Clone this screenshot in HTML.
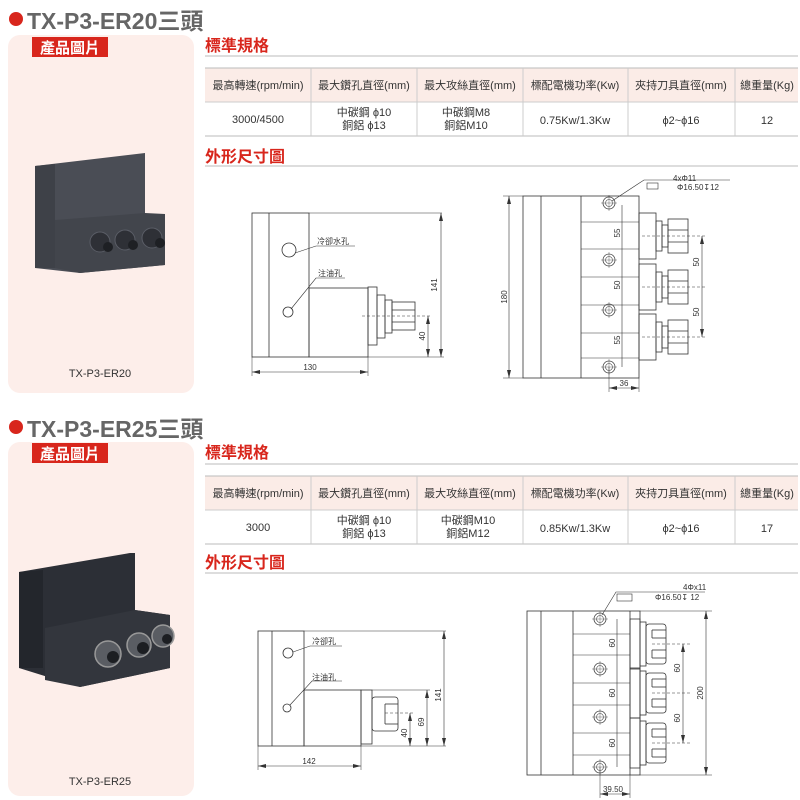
<!DOCTYPE html>
<html><head><meta charset="utf-8"><style>
html,body{margin:0;padding:0;background:#fff;}
svg{display:block;}
text{font-family:"Liberation Sans","Noto Sans CJK TC",sans-serif;}
</style></head><body>
<svg width="800" height="800" viewBox="0 0 800 800" xmlns="http://www.w3.org/2000/svg">
<defs>
<g id="tbl">
  <rect x="205" y="0" width="593" height="34" fill="#fbece7"/>
  <line x1="205" y1="0" x2="798" y2="0" stroke="#bbb"/>
  <line x1="205" y1="34" x2="798" y2="34" stroke="#ccc"/>
  <line x1="205" y1="68" x2="798" y2="68" stroke="#bbb"/>
  <g stroke="#ccc"><line x1="311" y1="0" x2="311" y2="68"/><line x1="417" y1="0" x2="417" y2="68"/><line x1="523" y1="0" x2="523" y2="68"/><line x1="628" y1="0" x2="628" y2="68"/><line x1="735" y1="0" x2="735" y2="68"/></g>
  <g font-size="11" fill="#333" text-anchor="middle">
   <text x="258" y="21">最高轉速(rpm/min)</text>
   <text x="364" y="21">最大鑽孔直徑(mm)</text>
   <text x="470" y="21">最大攻絲直徑(mm)</text>
   <text x="575" y="21">標配電機功率(Kw)</text>
   <text x="681" y="21">夾持刀具直徑(mm)</text>
   <text x="767" y="21">總重量(Kg)</text>
  </g>
</g>
<g id="cir"><circle r="6" fill="none" stroke="#444" stroke-width="0.8"/><circle r="3.5" fill="none" stroke="#444" stroke-width="0.6"/><line x1="-8" y1="0" x2="8" y2="0" stroke="#444" stroke-width="0.4"/><line x1="0" y1="-8" x2="0" y2="8" stroke="#444" stroke-width="0.4"/></g>
<g id="col1" fill="none" stroke="#333" stroke-width="0.8">
  <rect x="639" y="-23" width="17" height="46"/>
  <rect x="656" y="-15" width="6" height="30"/>
  <rect x="662" y="-11" width="6" height="22"/>
  <rect x="668" y="-17" width="20" height="34"/>
  <line x1="668" y1="-6" x2="688" y2="-6"/><line x1="668" y1="6" x2="688" y2="6"/>
  <line x1="642" y1="0" x2="705" y2="0" stroke-dasharray="3,2" stroke-width="0.5"/>
</g>
<g id="col2" fill="none" stroke="#333" stroke-width="0.8">
  <rect x="630" y="-25" width="10" height="50"/>
  <rect x="640" y="-22" width="6" height="44"/>
  <rect x="646" y="-20" width="20" height="40" rx="3"/>
  <line x1="652" y1="-14" x2="666" y2="-14"/><line x1="652" y1="-6" x2="666" y2="-6"/><line x1="652" y1="6" x2="666" y2="6"/><line x1="652" y1="14" x2="666" y2="14"/>
  <line x1="652" y1="-14" x2="652" y2="-6"/><line x1="652" y1="6" x2="652" y2="14"/>
  <line x1="652" y1="0" x2="690" y2="0" stroke-dasharray="3,2" stroke-width="0.5"/>
</g>
</defs>

<!-- ===== Section 1 ===== -->
<circle cx="16" cy="19" r="7" fill="#d8261c"/>
<text x="27" y="29" font-size="23" font-weight="bold" fill="#666">TX-P3-ER20三頭</text>
<rect x="8" y="35" width="186" height="358" rx="12" fill="#fdeeea"/>
<rect x="32" y="37" width="76" height="20" fill="#d8261c"/>
<text x="70" y="53" font-size="15" font-weight="bold" fill="#fff" text-anchor="middle">產品圖片</text>
<!-- photo 1 -->
<polygon points="35,166 145,153 145,215 165,214 165,265 80,273 35,268" fill="#4a4d55"/>
<polygon points="35,166 55,164 55,268 35,268" fill="#3e4148"/>
<polygon points="55,220 145,213 165,214 165,265 80,273 55,268" fill="#42454c"/>
<g fill="#2e3036" stroke="#5a5d66" stroke-width="1"><circle cx="100" cy="242" r="10"/><circle cx="125" cy="240" r="10"/><circle cx="152" cy="238" r="10"/></g>
<g fill="#1e2024"><circle cx="108" cy="247" r="5"/><circle cx="133" cy="245" r="5"/><circle cx="160" cy="243" r="5"/></g>
<text x="100" y="377" font-size="11" fill="#333" text-anchor="middle">TX-P3-ER20</text>

<text x="205" y="51" font-size="16" font-weight="bold" fill="#d8261c">標準規格</text>
<line x1="205" y1="56" x2="798" y2="56" stroke="#bbb"/>
<use href="#tbl" x="0" y="68"/>
<g font-size="11" fill="#333" text-antichor="middle" text-anchor="middle">
 <text x="258" y="123">3000/4500</text>
 <text x="364" y="116">中碳鋼 ϕ10</text><text x="364" y="129">銅鋁 ϕ13</text>
 <text x="466" y="116">中碳鋼M8</text><text x="466" y="129">銅鋁M10</text>
 <text x="575" y="124">0.75Kw/1.3Kw</text>
 <text x="681" y="124">ϕ2~ϕ16</text>
 <text x="767" y="124">12</text>
</g>
<text x="205" y="162" font-size="16" font-weight="bold" fill="#d8261c">外形尺寸圖</text>
<line x1="205" y1="166" x2="798" y2="166" stroke="#bbb"/>

<!-- left view 1 -->
<g fill="none" stroke="#333" stroke-width="0.8">
 <rect x="252" y="213" width="57" height="144"/>
 <line x1="269" y1="213" x2="269" y2="357"/>
 <line x1="309" y1="213" x2="442" y2="213" stroke-width="0.6"/>
 <rect x="309" y="288" width="59" height="69"/>
 <rect x="368" y="287" width="9" height="58"/>
 <rect x="377" y="295" width="8" height="43"/>
 <rect x="385" y="300" width="7" height="33"/>
 <rect x="392" y="302" width="23" height="28"/>
 <line x1="392" y1="310" x2="415" y2="310"/><line x1="392" y1="322" x2="415" y2="322"/>
 <line x1="362" y1="316" x2="432" y2="316" stroke-dasharray="3,2" stroke-width="0.5"/>
 <line x1="368" y1="357" x2="444" y2="357" stroke-width="0.5"/>
 <circle cx="289" cy="250" r="7"/>
 <circle cx="288" cy="312" r="5"/>
 <polyline points="295,253 316,246 355,246" stroke-width="0.6"/>
 <polyline points="291,309 316,278 345,278" stroke-width="0.6"/>
 <line x1="252" y1="357" x2="252" y2="376" stroke-width="0.5"/>
 <line x1="368" y1="357" x2="368" y2="376" stroke-width="0.5"/>
 <line x1="252" y1="372" x2="368" y2="372" stroke-width="0.6"/>
 <line x1="441" y1="213" x2="441" y2="357" stroke-width="0.6"/>
 <line x1="428" y1="316" x2="428" y2="357" stroke-width="0.6"/>
</g>
<g fill="#333"><polygon points="252,372 260,370 260,374"/><polygon points="368,372 360,370 360,374"/>
<polygon points="441,213 439,221 443,221"/><polygon points="441,357 439,349 443,349"/>
<polygon points="428,316 426,324 430,324"/><polygon points="428,357 426,349 430,349"/></g>
<g font-size="8" fill="#333">
 <text x="317" y="244">冷卻水孔</text><text x="318" y="276">注油孔</text>
 <text x="310" y="370" text-anchor="middle">130</text>
 <text transform="translate(437,285) rotate(-90)" text-anchor="middle">141</text>
 <text transform="translate(425,336) rotate(-90)" text-anchor="middle">40</text>
</g>

<!-- right view 1 -->
<g fill="none" stroke="#333" stroke-width="0.8">
 <rect x="523" y="196" width="116" height="182"/>
 <line x1="541" y1="196" x2="541" y2="378"/>
 <line x1="581" y1="196" x2="581" y2="378"/>
 <g stroke-width="0.6"><line x1="581" y1="222" x2="639" y2="222"/><line x1="581" y1="249" x2="639" y2="249"/><line x1="581" y1="277" x2="639" y2="277"/><line x1="581" y1="305" x2="639" y2="305"/><line x1="581" y1="333" x2="639" y2="333"/><line x1="581" y1="358" x2="639" y2="358"/></g>
 <line x1="503" y1="196" x2="523" y2="196" stroke-width="0.5"/><line x1="503" y1="378" x2="523" y2="378" stroke-width="0.5"/>
 <line x1="509" y1="196" x2="509" y2="378" stroke-width="0.6"/>
 <line x1="622" y1="205" x2="622" y2="367" stroke-width="0.6"/>
 <line x1="702" y1="236" x2="702" y2="337" stroke-width="0.6"/>
 <line x1="609" y1="367" x2="609" y2="392" stroke-width="0.5"/><line x1="639" y1="378" x2="639" y2="392" stroke-width="0.5"/>
 <line x1="609" y1="388" x2="639" y2="388" stroke-width="0.6"/>
 <polyline points="612,201 644,180 730,180" stroke-width="0.6"/>
 <rect x="647" y="183" width="11" height="6" stroke-width="0.6"/>
</g>
<use href="#cir" x="609" y="203"/><use href="#cir" x="609" y="260"/><use href="#cir" x="609" y="310"/><use href="#cir" x="609" y="367"/>
<use href="#col1" y="236"/><use href="#col1" y="287"/><use href="#col1" y="337"/>
<g fill="#333"><polygon points="509,196 507,204 511,204"/><polygon points="509,378 507,370 511,370"/>
<polygon points="702,236 700,244 704,244"/><polygon points="702,337 700,329 704,329"/><polygon points="609,388 617,386 617,390"/><polygon points="639,388 631,386 631,390"/></g>
<g font-size="8" fill="#333">
 <text x="673" y="181">4xΦ11</text><text x="677" y="190">Φ16.50↧12</text>
 <text transform="translate(507,297) rotate(-90)" text-anchor="middle">180</text>
 <text transform="translate(620,233) rotate(-90)" text-anchor="middle">55</text>
 <text transform="translate(620,285) rotate(-90)" text-anchor="middle">50</text>
 <text transform="translate(620,340) rotate(-90)" text-anchor="middle">55</text>
 <text transform="translate(699,262) rotate(-90)" text-anchor="middle">50</text>
 <text transform="translate(699,312) rotate(-90)" text-anchor="middle">50</text>
 <text x="624" y="386" text-anchor="middle">36</text>
</g>

<!-- ===== Section 2 ===== -->
<circle cx="16" cy="427" r="7" fill="#d8261c"/>
<text x="27" y="437" font-size="23" font-weight="bold" fill="#666">TX-P3-ER25三頭</text>
<rect x="8" y="442" width="186" height="354" rx="12" fill="#fdeeea"/>
<rect x="32" y="443" width="76" height="20" fill="#d8261c"/>
<text x="70" y="459" font-size="15" font-weight="bold" fill="#fff" text-anchor="middle">產品圖片</text>
<!-- photo 2 -->
<polygon points="19,572 130,553 135,553 135,610 170,615 170,668 80,687 19,668" fill="#2c2f36"/>
<polygon points="19,572 43,570 43,668 19,668" fill="#23262c"/>
<polygon points="45,628 135,610 170,615 170,668 80,687 45,680" fill="#33363d"/>
<g fill="#5a5d63" stroke="#999" stroke-width="1.5"><circle cx="108" cy="654" r="13"/><circle cx="139" cy="645" r="12"/><circle cx="163" cy="636" r="11"/></g>
<g fill="#1c1e22"><circle cx="113" cy="657" r="6"/><circle cx="143" cy="648" r="6"/><circle cx="167" cy="639" r="5"/></g>
<text x="100" y="785" font-size="11" fill="#333" text-anchor="middle">TX-P3-ER25</text>

<text x="205" y="458" font-size="16" font-weight="bold" fill="#d8261c">標準規格</text>
<line x1="205" y1="464" x2="798" y2="464" stroke="#bbb"/>
<use href="#tbl" x="0" y="476"/>
<g font-size="11" fill="#333" text-anchor="middle">
 <text x="258" y="531">3000</text>
 <text x="364" y="524">中碳鋼 ϕ10</text><text x="364" y="537">銅鋁 ϕ13</text>
 <text x="468" y="524">中碳鋼M10</text><text x="468" y="537">銅鋁M12</text>
 <text x="575" y="532">0.85Kw/1.3Kw</text>
 <text x="681" y="532">ϕ2~ϕ16</text>
 <text x="767" y="532">17</text>
</g>
<text x="205" y="568" font-size="16" font-weight="bold" fill="#d8261c">外形尺寸圖</text>
<line x1="205" y1="573" x2="798" y2="573" stroke="#bbb"/>

<!-- left view 2 -->
<g fill="none" stroke="#333" stroke-width="0.8">
 <rect x="258" y="631" width="46" height="115"/>
 <line x1="272" y1="631" x2="272" y2="746"/>
 <line x1="304" y1="631" x2="446" y2="631" stroke-width="0.6"/>
 <rect x="304" y="690" width="57" height="56"/>
 <rect x="361" y="690" width="11" height="54"/>
 <rect x="372" y="697" width="26" height="34" rx="3"/>
 <line x1="385" y1="704" x2="398" y2="704"/><line x1="385" y1="724" x2="398" y2="724"/><line x1="385" y1="704" x2="385" y2="724"/>
 <line x1="385" y1="713" x2="413" y2="713" stroke-dasharray="3,2" stroke-width="0.5"/>
 <line x1="361" y1="746" x2="446" y2="746" stroke-width="0.5"/>
 <line x1="372" y1="690" x2="430" y2="690" stroke-width="0.5"/>
 <circle cx="288" cy="653" r="5"/>
 <circle cx="287" cy="708" r="4"/>
 <polyline points="293,652 310,646 342,646" stroke-width="0.6"/>
 <polyline points="290,705 312,681 342,681" stroke-width="0.6"/>
 <line x1="258" y1="746" x2="258" y2="770" stroke-width="0.5"/><line x1="361" y1="746" x2="361" y2="770" stroke-width="0.5"/>
 <line x1="258" y1="766" x2="361" y2="766" stroke-width="0.6"/>
 <line x1="444" y1="631" x2="444" y2="746" stroke-width="0.6"/>
 <line x1="427" y1="690" x2="427" y2="746" stroke-width="0.6"/>
 <line x1="410" y1="713" x2="410" y2="746" stroke-width="0.6"/>
</g>
<g fill="#333"><polygon points="258,766 266,764 266,768"/><polygon points="361,766 353,764 353,768"/>
<polygon points="444,631 442,639 446,639"/><polygon points="444,746 442,738 446,738"/>
<polygon points="427,690 425,698 429,698"/><polygon points="427,746 425,738 429,738"/>
<polygon points="410,713 408,721 412,721"/><polygon points="410,746 408,738 412,738"/></g>
<g font-size="8" fill="#333">
 <text x="312" y="644">冷卻孔</text><text x="312" y="680">注油孔</text>
 <text x="309" y="764" text-anchor="middle">142</text>
 <text transform="translate(441,695) rotate(-90)" text-anchor="middle">141</text>
 <text transform="translate(424,722) rotate(-90)" text-anchor="middle">69</text>
 <text transform="translate(407,733) rotate(-90)" text-anchor="middle">40</text>
</g>

<!-- right view 2 -->
<g fill="none" stroke="#333" stroke-width="0.8">
 <rect x="527" y="611" width="113" height="164"/>
 <line x1="541" y1="611" x2="541" y2="775"/>
 <line x1="573" y1="611" x2="573" y2="775"/>
 <line x1="630" y1="611" x2="630" y2="775"/>
 <g stroke-width="0.6"><line x1="573" y1="634" x2="630" y2="634"/><line x1="573" y1="655" x2="630" y2="655"/><line x1="573" y1="683" x2="630" y2="683"/><line x1="573" y1="705" x2="630" y2="705"/><line x1="573" y1="733" x2="630" y2="733"/><line x1="573" y1="755" x2="630" y2="755"/></g>
 <line x1="640" y1="611" x2="712" y2="611" stroke-width="0.5"/><line x1="640" y1="775" x2="712" y2="775" stroke-width="0.5"/>
 <line x1="706" y1="611" x2="706" y2="775" stroke-width="0.6"/>
 <line x1="617" y1="619" x2="617" y2="767" stroke-width="0.6"/>
 <line x1="683" y1="644" x2="683" y2="743" stroke-width="0.6"/>
 <line x1="600" y1="767" x2="600" y2="798" stroke-width="0.5"/><line x1="630" y1="775" x2="630" y2="798" stroke-width="0.5"/>
 <line x1="600" y1="794" x2="630" y2="794" stroke-width="0.6"/>
 <polyline points="602,615 616,592 705,592" stroke-width="0.6"/>
 <rect x="617" y="594" width="15" height="7" stroke-width="0.6"/>
</g>
<use href="#cir" x="600" y="619"/><use href="#cir" x="600" y="669"/><use href="#cir" x="600" y="717"/><use href="#cir" x="600" y="767"/>
<use href="#col2" y="644"/><use href="#col2" y="693"/><use href="#col2" y="743"/>
<g fill="#333"><polygon points="706,611 704,619 708,619"/><polygon points="706,775 704,767 708,767"/>
<polygon points="683,644 681,652 685,652"/><polygon points="683,743 681,735 685,735"/><polygon points="600,794 608,792 608,796"/><polygon points="630,794 622,792 622,796"/></g>
<g font-size="8" fill="#333">
 <text x="683" y="590">4Φx11</text><text x="655" y="600">Φ16.50↧ 12</text>
 <text transform="translate(703,693) rotate(-90)" text-anchor="middle">200</text>
 <text transform="translate(615,643) rotate(-90)" text-anchor="middle">60</text>
 <text transform="translate(615,693) rotate(-90)" text-anchor="middle">60</text>
 <text transform="translate(615,743) rotate(-90)" text-anchor="middle">60</text>
 <text transform="translate(680,668) rotate(-90)" text-anchor="middle">60</text>
 <text transform="translate(680,718) rotate(-90)" text-anchor="middle">60</text>
 <text x="613" y="792" text-anchor="middle">39.50</text>
</g>
</svg>
</body></html>
